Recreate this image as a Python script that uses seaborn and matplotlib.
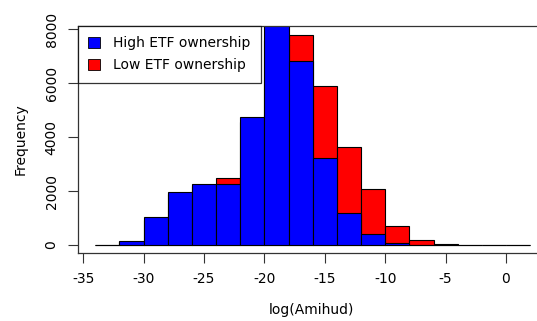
import numpy as np
import pandas as pd
import matplotlib
matplotlib.use("Agg")
import matplotlib.pyplot as plt
from matplotlib.patches import Patch
import seaborn as sns

# Histogram bin edges for log(Amihud), width 2
bin_edges = [-34, -32, -30, -28, -26, -24, -22, -20, -18, -16, -14, -12,
             -10, -8, -6, -4, -2, 0, 2]
bin_centers = [(a + b) / 2 for a, b in zip(bin_edges[:-1], bin_edges[1:])]

# Counts per bin
high_etf = [0, 150, 1020, 1975, 2270, 2250, 4750, 8400, 6815, 3235, 1200,
            395, 85, 10, 8, 2, 0, 0]
low_etf = [0, 120, 940, 1880, 2200, 2470, 4550, 7600, 7780, 5890, 3620,
           2060, 705, 195, 30, 4, 0, 0]

series_labels = ["High ETF ownership", "Low ETF ownership"]
series_colors = ["#0000FF", "#FF0000"]

x_ticks = [-35, -30, -25, -20, -15, -10, -5, 0]
y_ticks = [0, 2000, 4000, 6000, 8000]

df = pd.DataFrame({
    "amihud": bin_centers * 2,
    "count": high_etf + low_etf,
    "group": [series_labels[0]] * len(bin_centers) + [series_labels[1]] * len(bin_centers),
})

sns.set_style("white")
plt.rcParams["font.family"] = ["DejaVu Sans"]
plt.rcParams["text.color"] = "black"
plt.rcParams["axes.labelcolor"] = "black"
plt.rcParams["xtick.color"] = "black"
plt.rcParams["ytick.color"] = "black"

fig = plt.figure(figsize=(5.37, 3.21), dpi=100)
ax = fig.add_axes([0.1453, 0.2118, 0.8696, 0.707])

# Low group first, high group drawn over it
for label, color in [(series_labels[1], series_colors[1]), (series_labels[0], series_colors[0])]:
    sub = df[df["group"] == label]
    sns.histplot(data=sub, x="amihud", weights="count", bins=bin_edges,
                 color=color, alpha=1, edgecolor="black", linewidth=0.8,
                 ax=ax, label=label)

ax.set_xlim(-35.43, 3.23)
ax.set_ylim(-296, 8110)
ax.set_xticks(x_ticks)
ax.set_xticklabels([str(t) for t in x_ticks])
ax.set_yticks(y_ticks)
ax.set_yticklabels([str(t) for t in y_ticks], rotation=90, va="center")
ax.tick_params(axis="both", direction="out", length=7, width=0.8,
               color="#333333", labelcolor="black", labelsize=10, pad=7,
               left=True, bottom=True)
for side in ["left", "bottom", "top"]:
    ax.spines[side].set_color("#333333")
    ax.spines[side].set_linewidth(0.9)
ax.spines["right"].set_visible(False)

ax.set_xlabel("log(Amihud)", fontsize=10, labelpad=12, color="black")
ax.set_ylabel("Frequency", fontsize=10, labelpad=12, color="black")

handles = [Patch(facecolor=series_colors[0], edgecolor="black", linewidth=0.6),
           Patch(facecolor=series_colors[1], edgecolor="black", linewidth=0.6)]
leg = ax.legend(handles, series_labels, loc="upper left", bbox_to_anchor=(0, 1),
                borderaxespad=0, frameon=True, fancybox=False, fontsize=10,
                handlelength=0.85, handleheight=0.85, handletextpad=0.95,
                borderpad=0.75, labelspacing=0.55)
leg.get_frame().set_edgecolor("black")
leg.get_frame().set_linewidth(0.9)
for t in leg.get_texts():
    t.set_color("black")

fig.savefig("out.png", dpi=100)
